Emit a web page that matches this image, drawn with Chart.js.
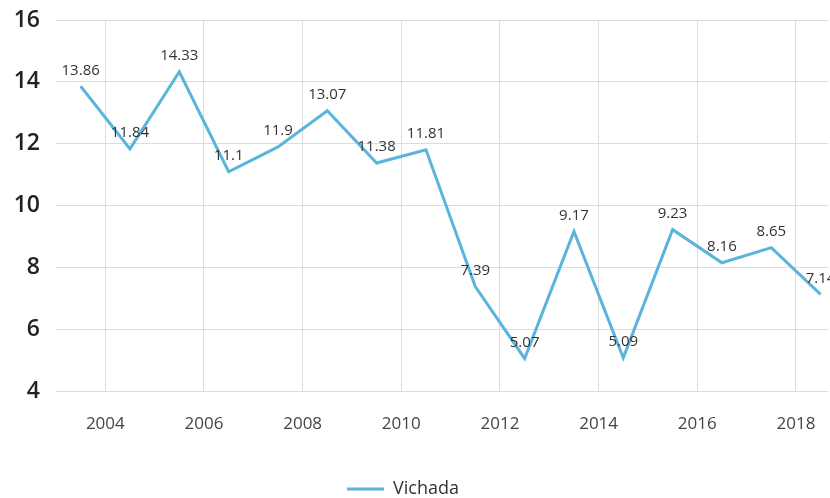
<!DOCTYPE html>
<html>
<head>
<meta charset="utf-8">
<script src="https://cdn.jsdelivr.net/npm/chart.js@4"></script>
<style>
  html, body { margin: 0; padding: 0; background: #fff; }
  #wrap { width: 830px; height: 498px; position: relative; }
</style>
</head>
<body>
<div id="wrap"><canvas id="chart"></canvas></div>
<script>
// ===== Data =====
const years = [2003, 2004, 2005, 2006, 2007, 2008, 2009, 2010, 2011, 2012, 2013, 2014, 2015, 2016, 2017, 2018];
const vichada = [13.86, 11.84, 14.33, 11.1, 11.9, 13.07, 11.38, 11.81, 7.39, 5.07, 9.17, 5.09, 9.23, 8.16, 8.65, 7.14];
const xTicks = [2004, 2006, 2008, 2010, 2012, 2014, 2016, 2018];
const yTicks = [4, 6, 8, 10, 12, 14, 16];

// points sit in the middle of each year
const points = years.map((y, i) => ({ x: y + 0.5, y: vichada[i] }));

// ===== Value labels =====
const valueLabels = {
  id: "valueLabels",
  afterDatasetsDraw(chart) {
    const ctx = chart.ctx;
    const meta = chart.getDatasetMeta(0);
    ctx.save();
    ctx.font = "15px 'Open Sans'";
    ctx.fillStyle = "#333";
    ctx.textAlign = "center";
    ctx.textBaseline = "middle";
    meta.data.forEach((pt, i) => {
      ctx.fillText(String(vichada[i]), pt.x, pt.y - 16);
    });
    ctx.restore();
  }
};

// legend sits a little left of centre and lower
const legendShift = {
  id: "legendShift",
  afterLayout(chart) {
    const lg = chart.legend;
    lg.right -= 34;
    lg.top += 10;
    lg.bottom += 10;
  }
};

new Chart(document.getElementById("chart"), {
  type: "line",
  data: {
    datasets: [{
      label: "Vichada",
      data: points,
      borderColor: "#5ab4dc",
      backgroundColor: "#5ab4dc",
      borderWidth: 3,
      pointRadius: 0,
      tension: 0
    }]
  },
  options: {
    responsive: true,
    maintainAspectRatio: false,
    animation: false,
    layout: { padding: { left: 12, right: 2, top: 0, bottom: 0 } },
    scales: {
      x: {
        type: "linear",
        min: 2003,
        max: 2018.65,
        afterBuildTicks: axis => { axis.ticks = xTicks.map(v => ({ value: v })); },
        afterFit: axis => {
          axis.paddingLeft = 0;
          axis.paddingRight = 0;
          axis.height += 12;
        },
        ticks: {
          callback: v => String(v),
          color: "#444",
          font: { family: "Open Sans", size: 17 },
          padding: 22
        },
        grid: { color: "#dcdcdc", drawTicks: false },
        border: { display: false }
      },
      y: {
        min: 4,
        max: 16,
        afterBuildTicks: axis => { axis.ticks = yTicks.map(v => ({ value: v })); },
        afterFit: axis => {
          axis.width = 44;
          axis.paddingTop = 20;
          axis.paddingBottom = 0;
        },
        ticks: {
          color: "#222",
          font: { family: "Open Sans", size: 23, weight: "600" },
          padding: 16
        },
        grid: { color: "#dcdcdc", drawTicks: false },
        border: { display: false }
      }
    },
    plugins: {
      legend: {
        position: "bottom",
        labels: {
          usePointStyle: true,
          pointStyle: "line",
          pointStyleWidth: 37,
          color: "#333",
          font: { family: "Open Sans", size: 18 },
          padding: 2
        }
      },
      tooltip: { enabled: false }
    }
  },
  plugins: [valueLabels, legendShift]
});
</script>
</body>
</html>
